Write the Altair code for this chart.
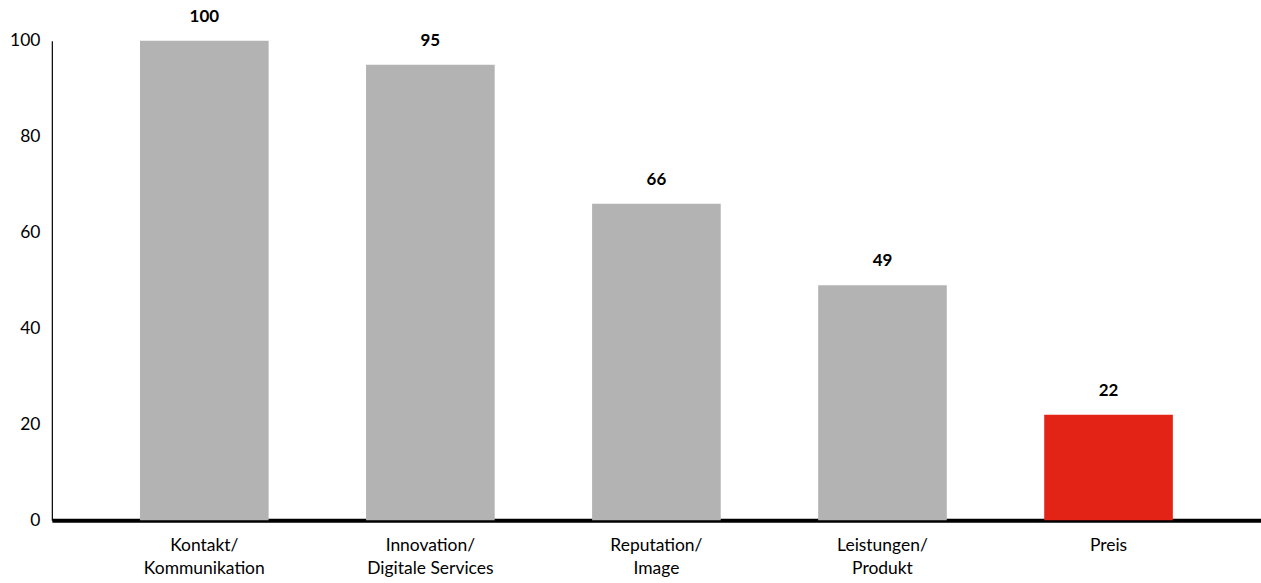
import altair as alt
import pandas as pd

categories = ["Kontakt/\nKommunikation", "Innovation/\nDigitale Services", "Reputation/\nImage", "Leistungen/\nProdukt", "Preis"]
values = [100, 95, 66, 49, 22]
colors = ["#b3b3b3", "#b3b3b3", "#b3b3b3", "#b3b3b3", "#e32315"]

df = pd.DataFrame({"cat": categories, "value": values, "color": colors})

FONT = "Lato"

x = alt.X("cat:N", sort=categories, title=None,
          scale=alt.Scale(paddingInner=0.431, paddingOuter=0.39),
          axis=alt.Axis(labelAngle=0, labelExpr="split(datum.label, '\\n')",
                        labelFontSize=17.5, labelFont=FONT, labelColor="#000",
                        labelPadding=16, labelLineHeight=23, ticks=False,
                        domainColor="#000", domainWidth=4))
y = alt.Y("value:Q", title=None,
          scale=alt.Scale(domain=[0, 100], nice=False),
          axis=alt.Axis(values=[0, 20, 40, 60, 80, 100], grid=False, ticks=False,
                        labelFontSize=17.5, labelFont=FONT, labelColor="#000",
                        labelPadding=12, domainColor="#000", domainWidth=1.2))

bars = alt.Chart(df).mark_bar().encode(
    x=x, y=y, color=alt.Color("color:N", scale=None)
)
text = alt.Chart(df).mark_text(baseline="bottom", dy=-15, fontSize=17, fontWeight="bold", font=FONT, color="#000").encode(
    x=alt.X("cat:N", sort=categories), y="value:Q", text="value:Q"
)

chart = (bars + text).properties(
    width=1213, height=481,
    autosize=alt.AutoSizeParams(type="none"),
    padding={"left": 52, "top": 40, "right": 0, "bottom": 62},
    background="white",
).configure_view(strokeWidth=0, stroke="transparent")

chart.save("out.html", embed_options={"renderer": "svg", "actions": False})
